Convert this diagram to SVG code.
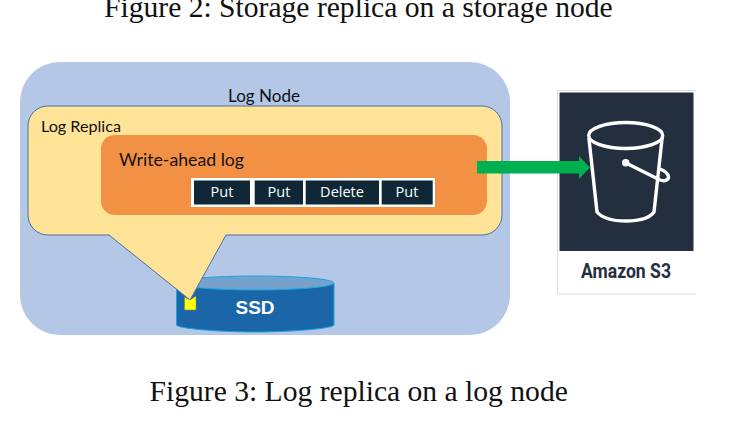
<svg xmlns="http://www.w3.org/2000/svg" width="729" height="421" viewBox="0 0 729 421">
<style>
.cap{font-family:"Liberation Serif",serif;font-size:29.600px;fill:#111}
.lbl{font-family:Lato,"Open Sans",sans-serif;fill:#111}
.cell{fill:#0f2736}
.op{font-family:"Open Sans","Noto Sans",sans-serif;font-size:14.500px;fill:#fff;text-anchor:middle}
.b{fill:none;stroke:#fff;stroke-width:3.400;stroke-linecap:round;stroke-linejoin:round}
</style>
<rect width="729" height="421" fill="#fff"/>
<text class="cap" x="104" y="16.500">Figure 2: Storage replica on a storage node</text>
<g id="log-node">
<rect x="20" y="62" width="490" height="273" rx="40" fill="#b4c7e7"/>
<text class="lbl" x="228" y="101.500" font-size="16.500" textLength="72" lengthAdjust="spacingAndGlyphs">Log Node</text>
</g>
<g id="ssd">
<path d="M176.500 283V325C176.500 328 214 332 255 332S334 328 334 325V283Z" fill="#1a66a8" stroke="#12a8e0"/>
<ellipse cx="255.500" cy="283" rx="78.500" ry="7" fill="#74a2cd" stroke="#12a8e0"/>
<text x="255" y="314" font-family="Liberation Sans,sans-serif" font-size="19" font-weight="700" fill="#fff" text-anchor="middle">SSD</text>
</g>
<g id="log-replica">
<path d="M48 106H482A20 20 0 0 1 502 126V215A20 20 0 0 1 482 235H226L190 300L109 235H48A20 20 0 0 1 28 215V126A20 20 0 0 1 48 106Z" fill="#ffe397" stroke="#4f6f9f"/>
<text class="lbl" x="41" y="132" font-size="15.500" textLength="80" lengthAdjust="spacingAndGlyphs">Log Replica</text>
</g>
<g id="block">
<path d="M184.500 297L190 300L196 296V310H184.500Z" fill="#ff0" stroke="#777" stroke-width=".5"/>
</g>
<g id="wal">
<rect x="101" y="135" width="386" height="80" rx="14" fill="#f29143"/>
<text class="lbl" x="119" y="166" font-size="17.500" textLength="125" lengthAdjust="spacingAndGlyphs">Write-ahead log</text>
</g>
<g id="entries">
<rect x="191" y="178" width="244" height="29" fill="#fff"/>
<rect class="cell" x="194" y="180.500" width="56" height="24"/>
<rect class="cell" x="254.700" y="180.500" width="48.300" height="24"/>
<rect class="cell" x="305.700" y="180.500" width="73.300" height="24"/>
<rect class="cell" x="381.700" y="180.500" width="51" height="24"/>
<text class="op" x="222" y="197">Put</text>
<text class="op" x="279" y="197">Put</text>
<text class="op" x="342" y="197">Delete</text>
<text class="op" x="407" y="197">Put</text>
</g>
<g id="s3">
<path d="M696 90.500H557.500V294H696" fill="#fff" stroke="#ddd"/>
<rect x="559.500" y="92.500" width="134" height="158.500" fill="#232f3e"/>
<ellipse class="b" cx="625.700" cy="135.500" rx="37" ry="13"/>
<path class="b" d="M589 139L597 212C603 219 615 221 626 221S649 219 654 212L662 139"/>
<circle cx="625.700" cy="162.700" r="3.800" fill="#fff"/>
<path class="b" d="M626 163L660 180C666 182 670 179 668 175C666 172 663 170 660 169"/>
<text x="626" y="278" font-family="Roboto,sans-serif" font-size="21" font-weight="700" fill="#232f3e" text-anchor="middle" textLength="90" lengthAdjust="spacingAndGlyphs">Amazon S3</text>
</g>
<g id="connectors">
<path d="M477 161H579V156L590 167.500L579 179V173.500H477Z" fill="#00b050"/>
</g>
<text class="cap" x="149.500" y="401">Figure 3: Log replica on a log node</text>
</svg>
